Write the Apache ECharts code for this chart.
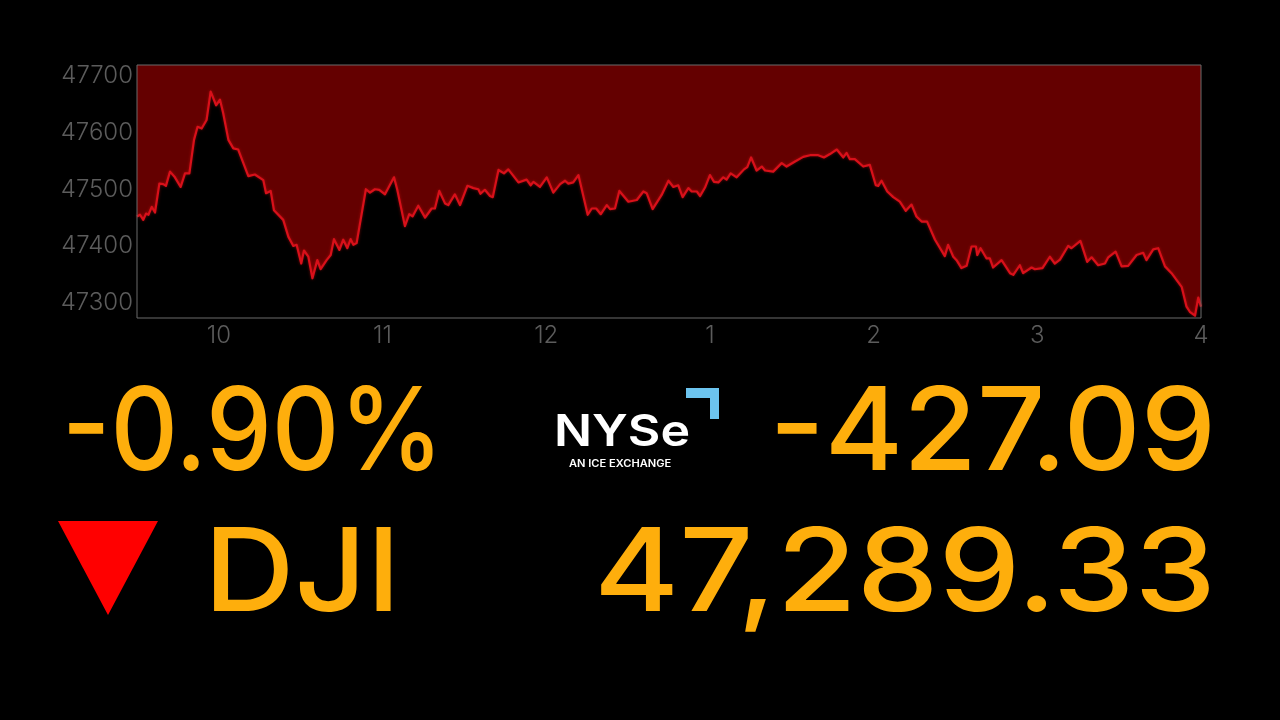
<!DOCTYPE html>
<html lang="en">
  <head>
    <meta charset="UTF-8" />
    <title>DJI close</title>
    <script src="https://cdn.jsdelivr.net/npm/echarts@6/dist/echarts.min.js"></script>
    <style>
      body { margin: 0; background: #000; }
    </style>
  </head>

  <body>
    <div id="main" style="width: 1280px; height: 720px"></div>

    <script type="text/javascript">
      // minutes since 9:00 at each turn of the line
      const minutes = [
        30, 31.1, 32.3, 33.3, 34.2, 35.4, 36.6, 38.2, 39.6, 40.6, 42.1, 43.9, 46, 47.6, 49.2, 50.9, 52.2, 53.7, 55.5, 57,
        59, 60.4, 61.6, 63.5, 65.3, 67.1, 70.8, 73.2, 76.3, 77.3, 79, 80.2, 83.6, 85.5, 87.3, 88.5, 90.2, 91.2, 92.8, 94.3,
        96.1, 97.3, 99.5, 101, 102.2, 104.2, 105.6, 107.1, 108.3, 109.3, 110.5, 113.9, 115.4, 117.2, 118.8, 120.9, 124.2, 125.4, 128.2, 129.8,
        131, 133.1, 135.6, 138, 139.2, 140.8, 142.9, 144.1, 146.5, 148.4, 151.1, 153.3, 155.1, 155.9, 157.5, 159.4,
        160.4, 162.5, 164.5, 166.1, 169.8, 172.8, 174.3, 175.3, 177.7, 180.2, 182.6, 185.1, 186.9, 188.1, 189.9, 191.8, 195.2, 196.7, 198.3, 200,
        202.2, 203.4, 205.2, 206.8, 210.1, 213.2, 215.6, 216.8, 219, 222.3, 224.8, 226.6, 228.4, 230, 232.1, 233.3, 235.2, 236.4, 238.2, 240,
        241.5, 243.1, 244.9, 246.1, 247.6, 249.8, 252.5, 253.7, 255.1, 257.1, 259, 260.2, 263.2, 266.3, 268.1, 271.2, 274.2, 276.7, 279.7, 281.8,
        284, 286.5, 288.9, 290.1, 291.3,
        293.1, 296.2, 298.6, 300.8, 301.7, 302.9, 305, 307.2, 309.6, 311.8, 313.9, 315.7, 317.6, 319.6, 322.5, 326.1, 327.3, 329.2, 330.4, 332.2,
        334.1, 335.9, 337.5, 338, 339.2, 341.4, 342.6, 343.8, 346.9, 350, 351.2, 353.6, 354.8, 357.9, 359.1, 361.9, 364.6, 366.4, 368.3, 371.3,
        372.5, 375.8, 378.3, 379.9, 382.3, 384.8, 386, 388.7, 390.9, 393.3, 396.4, 398.8, 400, 402.5, 404.3, 406.8, 409.2, 412.9, 414.7, 415.9,
        417.8, 419, 420,
      ];
      const closes = [
        47449, 47452, 47443, 47454, 47452, 47466, 47456, 47507, 47506, 47503, 47528, 47518, 47501, 47525, 47525, 47584, 47607, 47604, 47619, 47669,
        47645, 47655, 47631, 47584, 47569, 47567, 47520, 47523, 47513, 47490, 47494, 47460, 47443, 47413, 47397, 47399, 47366, 47389, 47378, 47340,
        47372, 47356, 47372, 47381, 47409, 47390, 47408, 47393, 47409, 47399, 47402, 47497, 47491, 47497, 47496, 47488, 47518, 47496, 47432, 47453,
        47449, 47468, 47447, 47463, 47463, 47494, 47472, 47469, 47488, 47469, 47503, 47499, 47497, 47489, 47496, 47485,
        47483, 47531, 47525, 47532, 47509, 47514, 47504, 47510, 47501, 47518, 47491, 47506, 47512, 47507, 47509, 47522, 47452, 47463, 47463, 47453,
        47469, 47462, 47463, 47494, 47475, 47478, 47493, 47490, 47462, 47487, 47512, 47501, 47504, 47483, 47499, 47493, 47493, 47485, 47500, 47522,
        47510, 47509, 47518, 47514, 47525, 47518, 47532, 47536, 47553, 47530, 47537, 47530, 47528, 47543, 47537, 47546, 47554, 47557, 47557, 47553,
        47559, 47567, 47553, 47561, 47550,
        47550, 47537, 47540, 47504, 47503, 47512, 47493, 47483, 47475, 47459, 47470, 47449, 47440, 47440, 47408, 47379, 47399, 47378, 47372, 47358,
        47362, 47396, 47396, 47381, 47393, 47375, 47375, 47359, 47372, 47349, 47346, 47363, 47349, 47359, 47356, 47358, 47378, 47366, 47373, 47397,
        47393, 47406, 47369, 47377, 47363, 47366, 47377, 47387, 47361, 47362, 47381, 47385, 47372, 47391, 47393, 47361, 47349, 47325, 47290, 47281,
        47274, 47306, 47290,
      ];
      const priceTicks = [47300, 47400, 47500, 47600, 47700];
      const hourTicks = [60, 120, 180, 240, 300, 360, 420];
      const hourLabels = ["10", "11", "12", "1", "2", "3", "4"];

      const percentText = "-0.90%";
      const changeText = "-427.09";
      const indexName = "DJI";
      const lastText = "47,289.33";

      const gold = "#feae0c";
      const bigFont = "500 115px Inter";

      let myChart = echarts.init(document.getElementById("main"));

      // big readouts are squeezed or stretched to the width they have in the picture
      function readout(text, x, y, align, scaleX) {
        return {
          type: "text",
          x: x,
          y: y,
          scaleX: scaleX,
          style: { text: text, fill: gold, font: bigFont, align: align, verticalAlign: "middle" },
        };
      }

      let options = {
        backgroundColor: "#000",
        animation: false,
        grid: {
          left: 137,
          right: 79,
          top: 65,
          bottom: 402,
          show: true,
          backgroundColor: "#000",
          borderWidth: 0,
        },
        xAxis: {
          type: "value",
          min: 30,
          max: 420,
          splitLine: { show: false },
          axisLine: { show: false },
          axisTick: { show: false },
          axisLabel: {
            customValues: hourTicks,
            formatter: (v) => hourLabels[hourTicks.indexOf(v)],
            color: "#5c5c5c",
            fontFamily: "Inter",
            fontWeight: 300,
            fontSize: 24,
            margin: 6,
            showMaxLabel: true,
          },
        },
        yAxis: {
          type: "value",
          min: 47270,
          max: 47716,
          splitLine: { show: false },
          axisLine: { show: false },
          axisTick: { show: false },
          axisLabel: {
            customValues: priceTicks,
            formatter: (v) => String(v),
            color: "#5c5c5c",
            fontFamily: "Inter",
            fontWeight: 300,
            fontSize: 24,
            margin: 4,
            verticalAlign: "top",
            lineHeight: 4,
          },
        },
        series: [
          {
            type: "line",
            data: minutes.map((m, i) => [m, closes[i]]),
            showSymbol: false,
            lineStyle: {
              color: "#d8101a",
              width: 2.2,
              join: "round",
              shadowColor: "rgba(230,20,20,0.5)",
              shadowBlur: 3,
            },
            areaStyle: { color: "#640000", origin: "end", opacity: 1 },
          },
        ],
        graphic: [
          {
            type: "rect",
            z: 10,
            shape: { x: 137, y: 65, width: 1064, height: 253 },
            style: { fill: "none", stroke: "#6a6a6a", lineWidth: 1 },
          },
          readout(percentText, 62, 435, "left", 0.91),
          readout(changeText, 1216, 435, "right", 1.04),
          readout(indexName, 204, 576, "left", 1.09),
          readout(lastText, 1216, 576, "right", 1.13),
          {
            type: "polygon",
            shape: { points: [[58, 521], [158, 521], [108, 615]] },
            style: { fill: "#ff0000" },
          },
          {
            type: "polygon",
            shape: { points: [[686, 388], [719, 388], [719, 419], [710, 419], [710, 398], [686, 398]] },
            style: { fill: "#6cc4ef" },
          },
          {
            type: "text",
            x: 554,
            y: 433,
            scaleX: 1.14,
            style: { text: "NYSe", fill: "#fff", font: "600 44px Inter", verticalAlign: "middle" },
          },
          {
            type: "text",
            x: 569,
            y: 464,
            scaleX: 1.11,
            style: { text: "AN ICE EXCHANGE", fill: "#fff", font: "600 10px Inter", verticalAlign: "middle" },
          },
        ],
      };

      myChart.setOption(options);
    </script>
  </body>
</html>
